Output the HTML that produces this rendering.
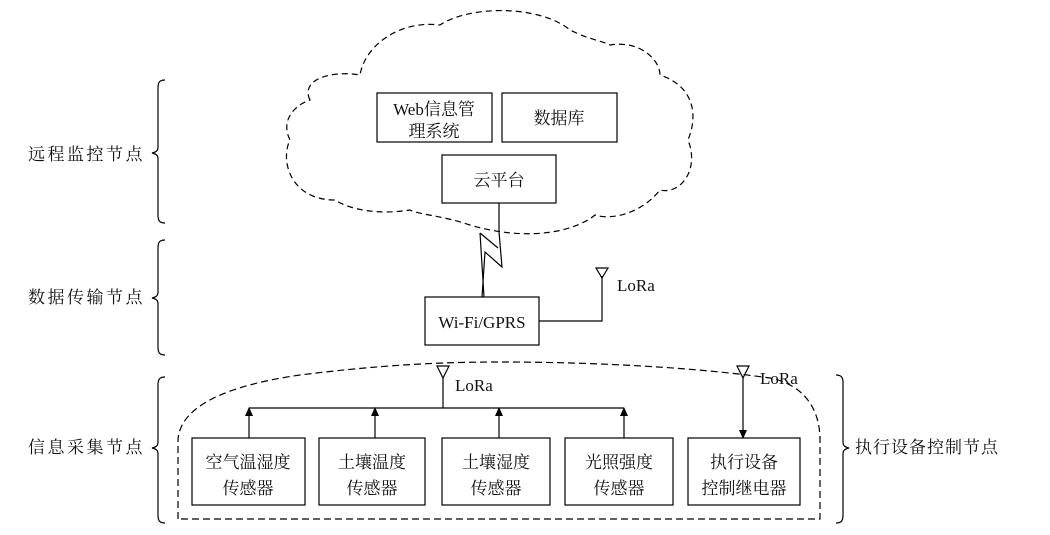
<!DOCTYPE html>
<html><head><meta charset="utf-8"><style>
body{margin:0;background:#fff}
svg{display:block}
text{font-family:"Liberation Serif","Noto Serif CJK SC","Noto Sans CJK SC",serif;font-size:17px;fill:#111}
</style></head><body>
<svg width="1050" height="535" viewBox="0 0 1050 535" xmlns="http://www.w3.org/2000/svg">
<g fill="none" stroke="#000" stroke-width="1.2">
<!-- cloud -->
<path stroke-dasharray="6,4" d="M310,100 C300,80 330,70 360,75 C365,45 400,20 440,25 C470,5 540,5 570,30 C590,40 600,40 610,45 C640,40 660,60 660,75 C690,85 700,110 688,140 C700,170 680,195 660,190 C640,215 610,220 595,215 C570,235 520,240 470,225 C440,215 420,215 410,210 C380,215 350,210 335,200 C290,200 280,160 290,140 C280,120 295,105 310,100 Z"/>
<rect x="377" y="93" width="115" height="49"/>
<rect x="502" y="93" width="115" height="49"/>
<rect x="442" y="155" width="114" height="48"/>
<polyline points="499,203 499,232 502,267 485,252 482,297"/>
<polyline points="480,233 498,248"/>
<line x1="480" y1="233" x2="484" y2="297"/>
<rect x="425" y="297" width="114" height="48"/>
<polyline points="539,321 602,321 602,276"/>
<path d="M596,268 L608,268 L602,278 Z"/>
<!-- bottom dashed container -->
<path stroke-dasharray="7,4" d="M178,519 L178,440 C180,405 230,385 300,375 C380,365 440,362 500,362 C600,362 700,368 770,378 C805,385 820,410 820,440 L820,519 Z"/>
<line x1="443" y1="378" x2="443" y2="408"/>
<path d="M437,366 L449,366 L443,378 Z"/>
<line x1="249" y1="408" x2="624" y2="408"/>
<line x1="249" y1="438" x2="249" y2="414"/>
<line x1="375" y1="438" x2="375" y2="414"/>
<line x1="499" y1="438" x2="499" y2="414"/>
<line x1="624" y1="438" x2="624" y2="414"/>
<path d="M737,366 L749,366 L743,378 Z"/>
<line x1="743" y1="378" x2="743" y2="432"/>
<rect x="192" y="438" width="113" height="67"/>
<rect x="319" y="438" width="106" height="67"/>
<rect x="442" y="438" width="108" height="67"/>
<rect x="565" y="438" width="108" height="67"/>
<rect x="688" y="438" width="112" height="67"/>
<!-- braces -->
<path d="M165,80 C159,80 158,83 158,88 L158,147 C158,151 156,152 152,153 C156,154 158,155 158,159 L158,215 C158,220 159,223 165,223"/>
<path d="M165,240 C159,240 158,243 158,248 L158,292 C158,296 156,297 152,298 C156,299 158,300 158,304 L158,347 C158,352 159,355 165,355"/>
<path d="M165,377 C159,377 158,380 158,385 L158,442 C158,446 156,447 152,448 C156,449 158,450 158,454 L158,515 C158,520 159,523 165,523"/>
<path d="M836,375 C842,375 843,378 843,383 L843,442 C843,446 845,447 849,448 C845,449 843,450 843,454 L843,515 C843,520 842,523 836,523"/>
</g>
<g fill="#000">
<path d="M245,416 L253,416 L249,407 Z"/>
<path d="M371,416 L379,416 L375,407 Z"/>
<path d="M495,416 L503,416 L499,407 Z"/>
<path d="M620,416 L628,416 L624,407 Z"/>
<path d="M739,430 L747,430 L743,439 Z"/>
</g>
<g letter-spacing="2.5">
<text x="28" y="160">远程监控节点</text>
<text x="28" y="303">数据传输节点</text>
<text x="28" y="453">信息采集节点</text>
</g>
<text x="855" y="453" letter-spacing="1">执行设备控制节点</text>
<text x="434" y="115" text-anchor="middle">Web信息管</text>
<text x="434" y="137" text-anchor="middle">理系统</text>
<text x="559" y="124" text-anchor="middle">数据库</text>
<text x="499" y="186" text-anchor="middle">云平台</text>
<text x="482" y="328" text-anchor="middle">Wi-Fi/GPRS</text>
<text x="617" y="291">LoRa</text>
<text x="455" y="391">LoRa</text>
<text x="760" y="384">LoRa</text>
<g text-anchor="middle">
<text x="248" y="468">空气温湿度</text><text x="248" y="494">传感器</text>
<text x="372" y="468">土壤温度</text><text x="372" y="494">传感器</text>
<text x="496" y="468">土壤湿度</text><text x="496" y="494">传感器</text>
<text x="619" y="468">光照强度</text><text x="619" y="494">传感器</text>
<text x="744" y="468">执行设备</text><text x="744" y="494">控制继电器</text>
</g>
</svg>
</body></html>
